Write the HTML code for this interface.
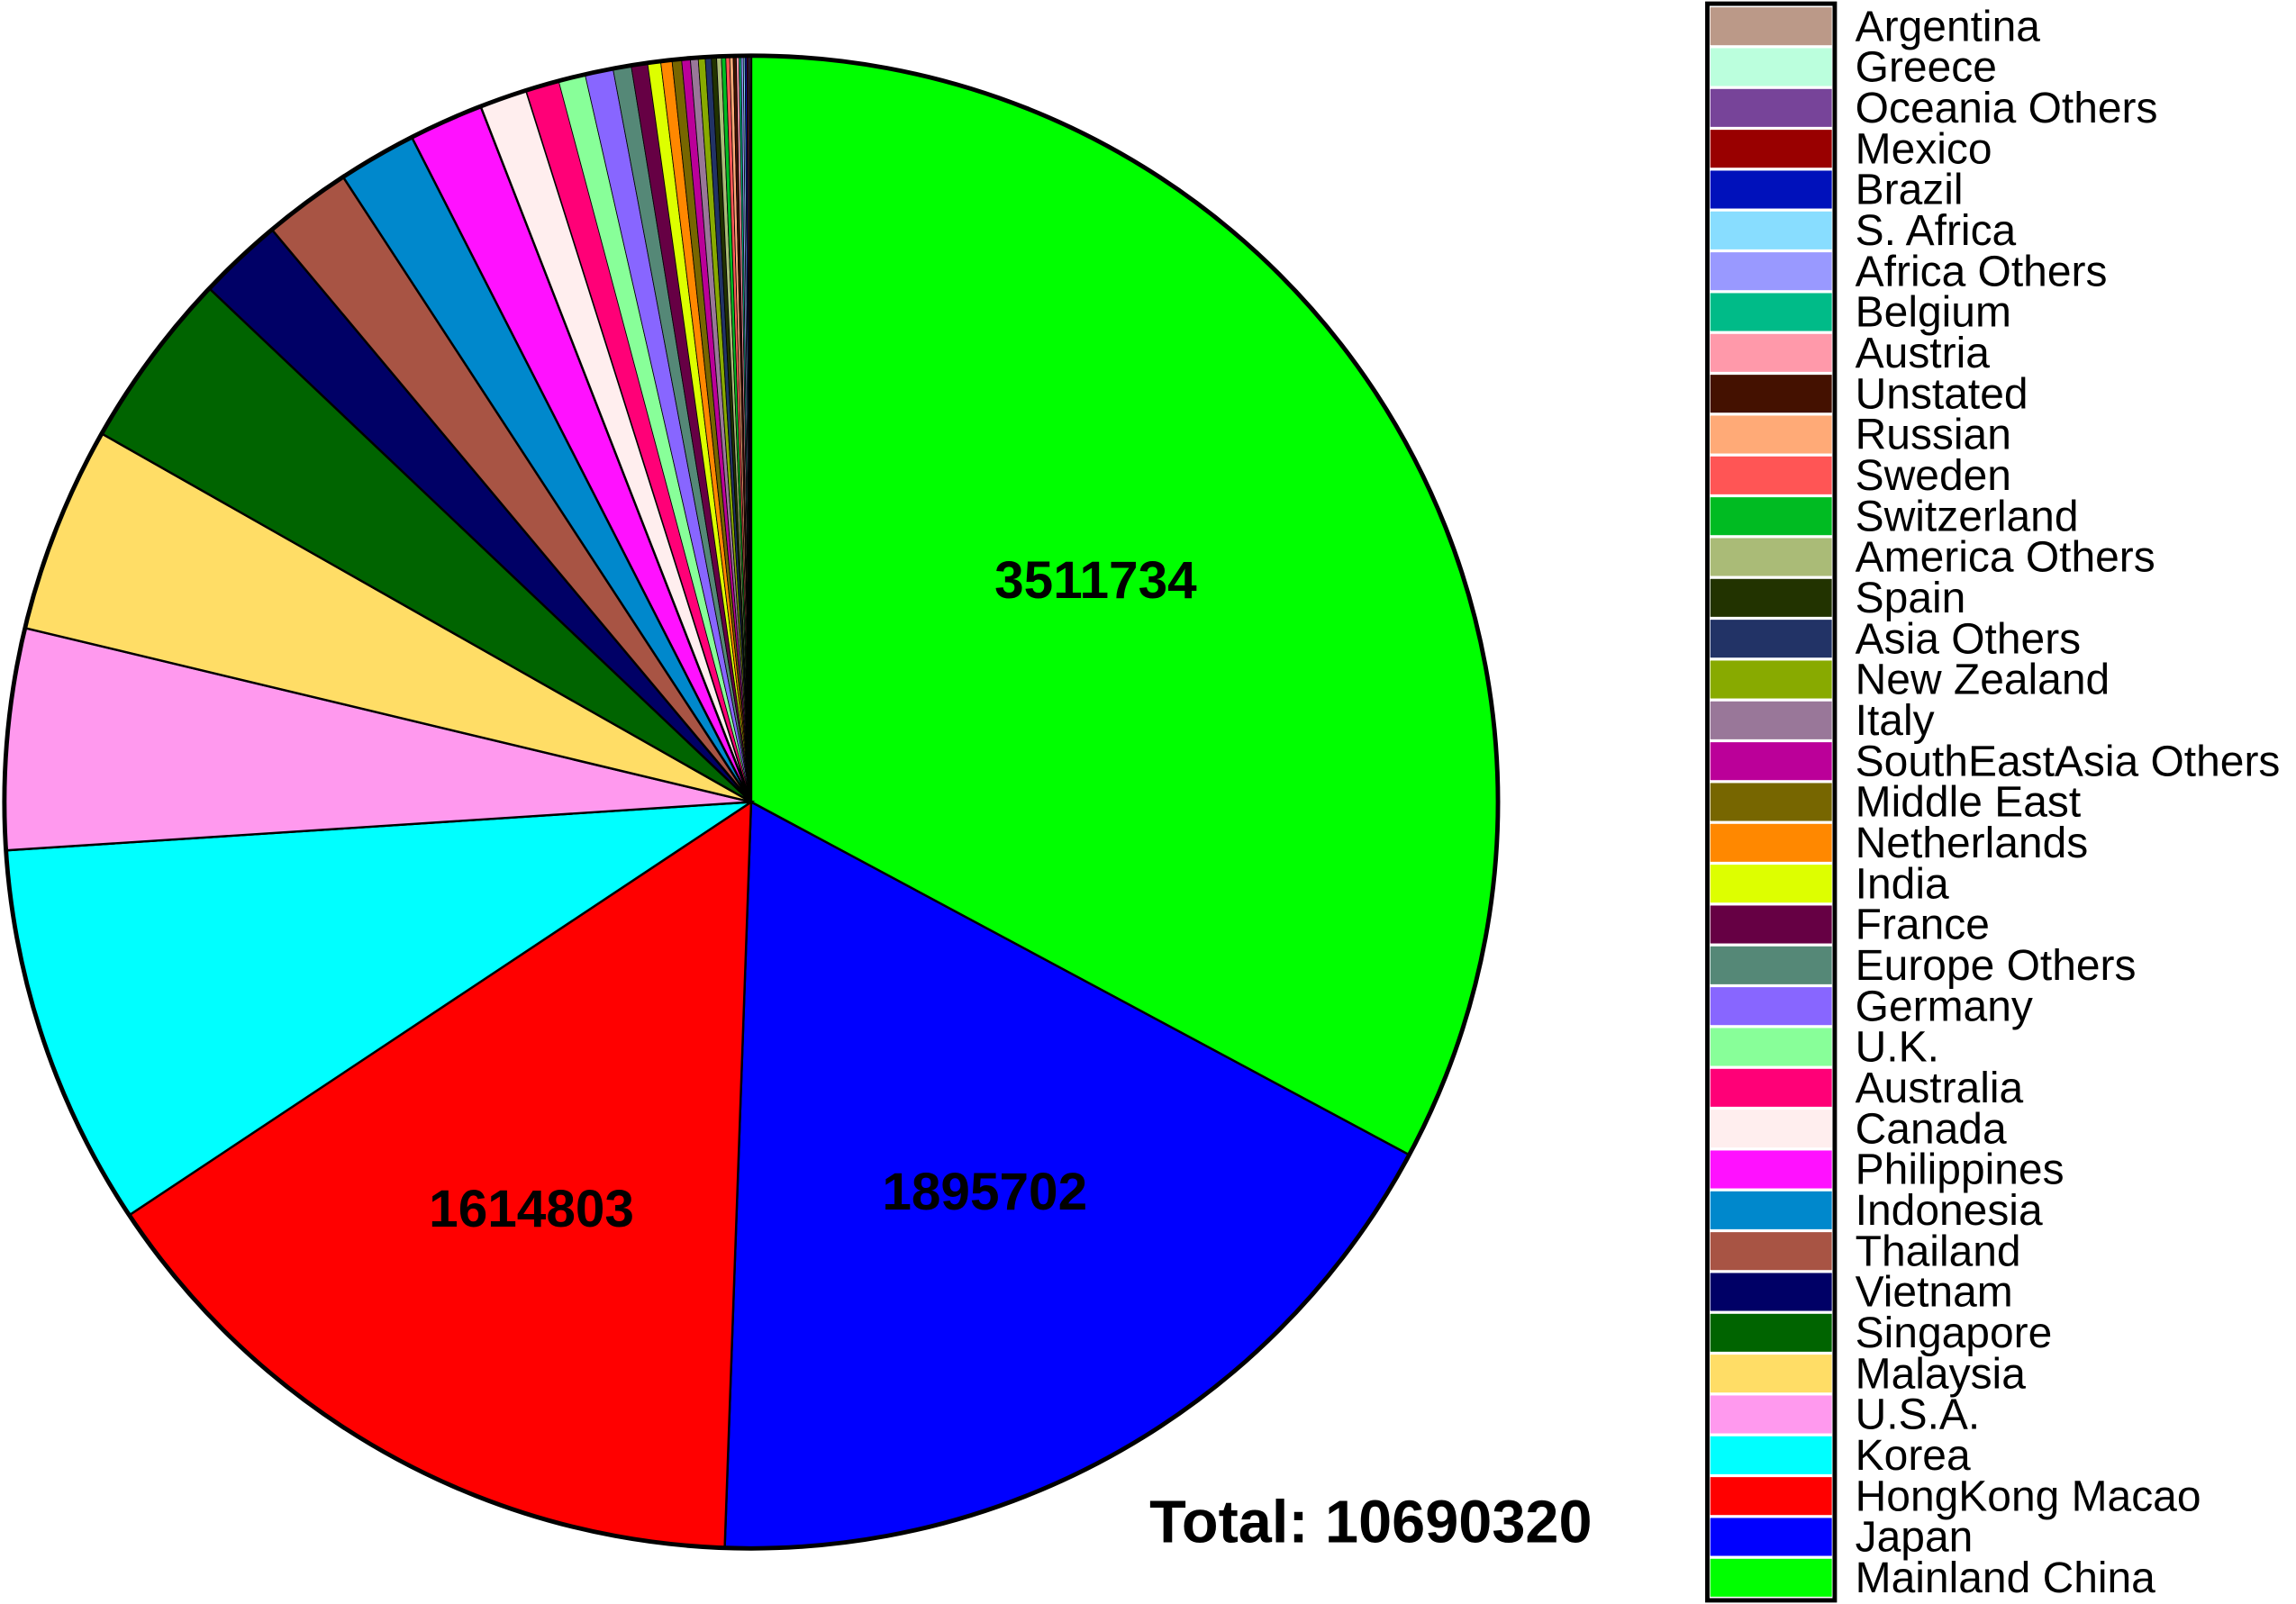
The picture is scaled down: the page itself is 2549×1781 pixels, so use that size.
<!DOCTYPE html>
<html><head><meta charset="utf-8"><style>
html,body{margin:0;padding:0;background:#fff;}
svg{display:block;}
text{font-family:"Liberation Sans",Arial,sans-serif;}
</style></head><body>
<svg id="chart" width="2549" height="1781" viewBox="0 0 1568 1096" preserveAspectRatio="none" xmlns="http://www.w3.org/2000/svg">
<g id="slices"></g>
<g id="labels"></g>
<text id="total" x="785" y="1054" font-size="41" font-weight="bold"></text>
<g id="legend"></g>
</svg>
<script>
const categories = ["Mainland China","Japan","HongKong Macao","Korea","U.S.A.","Malaysia","Singapore","Vietnam","Thailand","Indonesia","Philippines","Canada","Australia","U.K.","Germany","Europe Others","France","India","Netherlands","Middle East","SouthEastAsia Others","Italy","New Zealand","Asia Others","Spain","America Others","Switzerland","Sweden","Russian","Unstated","Austria","Belgium","Africa Others","S. Africa","Brazil","Mexico","Oceania Others","Greece","Argentina"];
const values = [3511734,1895702,1614803,888000,511000,478000,413000,196000,202000,181000,172000,110000,77000,62000,65000,42000,38000,30000,26000,22000,20000,18000,16000,14000,12000,11000,10000,9000,8000,7000,6000,5000,5000,4000,4000,3000,3000,2000,2000];
const colors = ["#00ff00","#0000ff","#ff0000","#00ffff","#ff99ee","#ffdd66","#006400","#000066","#a85444","#0088cc","#ff11ff","#ffeeee","#ff0077","#88ff99","#8866ff","#558877","#660044","#ddff00","#ff8800","#776600","#bb0099","#997799","#88aa00","#223366","#223300","#aabb77","#00bb22","#ff5555","#ffaa77","#441100","#ff99aa","#00bb88","#9999ff","#88ddff","#0011bb","#990000","#774499","#bbffdd","#bb9988"];
const labeledCount = 3;
const totalValue = 10690320;

const NS="http://www.w3.org/2000/svg";
const cx=513, cy=548, R=510;
const sum = values.reduce((a,b)=>a+b,0);
const angleOf = v => v/sum*Math.PI*2;
const pt = (a,r) => [cx + r*Math.sin(a), cy - r*Math.cos(a)];
const gS=document.getElementById('slices'), gL=document.getElementById('labels'), gLeg=document.getElementById('legend');
let a0=0;
values.forEach((v,i)=>{
  const a1=a0+angleOf(v);
  const p0=pt(a0,R), p1=pt(a1,R);
  const large=(a1-a0)>Math.PI?1:0;
  const p=document.createElementNS(NS,'path');
  p.setAttribute('d',`M${cx},${cy} L${p0[0]},${p0[1]} A${R},${R} 0 ${large} 1 ${p1[0]},${p1[1]} Z`);
  p.setAttribute('fill',colors[i]);
  p.setAttribute('stroke','#000');
  p.setAttribute('stroke-width',values[i]/sum>0.01?'1.5':'0.5');
  
  
  gS.appendChild(p);
  if(i<labeledCount){
    const frac=v/sum;
    const rr=R*(0.68-0.4*frac);
    const ma=(a0+a1)/2 - 0.1*frac;
    const m=pt(ma,rr);
    const t=document.createElementNS(NS,'text');
    t.setAttribute('x',m[0]); t.setAttribute('y',m[1]+12);
    t.setAttribute('text-anchor','middle'); t.setAttribute('font-size','36'); t.setAttribute('font-weight','bold');
    t.textContent=String(v);
    
    
    gL.appendChild(t);
  }
  a0=a1;
});
const outline=document.createElementNS(NS,'circle');
outline.setAttribute('cx',cx);outline.setAttribute('cy',cy);outline.setAttribute('r',R);
outline.setAttribute('fill','none');outline.setAttribute('stroke','#000');outline.setAttribute('stroke-width','3');


gS.appendChild(outline);
document.getElementById('total').textContent='Total: '+totalValue;

const nCat=categories.length, legTop=4, legH=(1092-legTop)/nCat;
for(let k=0;k<nCat;k++){
  const i=nCat-1-k, y=legTop+k*legH;
  const r=document.createElementNS(NS,'rect');
  r.setAttribute('x',1168);r.setAttribute('y',y+1);r.setAttribute('width',83);r.setAttribute('height',legH-2);
  r.setAttribute('fill',colors[i]);
  
  
  gLeg.appendChild(r);
  const t=document.createElementNS(NS,'text');
  t.setAttribute('x',1267);t.setAttribute('y',y+legH/2+10);t.setAttribute('font-size','29.5');
  t.textContent=categories[i];
  
  
  gLeg.appendChild(t);
}
const box=document.createElementNS(NS,'rect');
box.setAttribute('x',1166);box.setAttribute('y',2.5);box.setAttribute('width',87);box.setAttribute('height',1091);
box.setAttribute('fill','none');box.setAttribute('stroke','#000');box.setAttribute('stroke-width','3');


gLeg.appendChild(box);
</script>
</body></html>
